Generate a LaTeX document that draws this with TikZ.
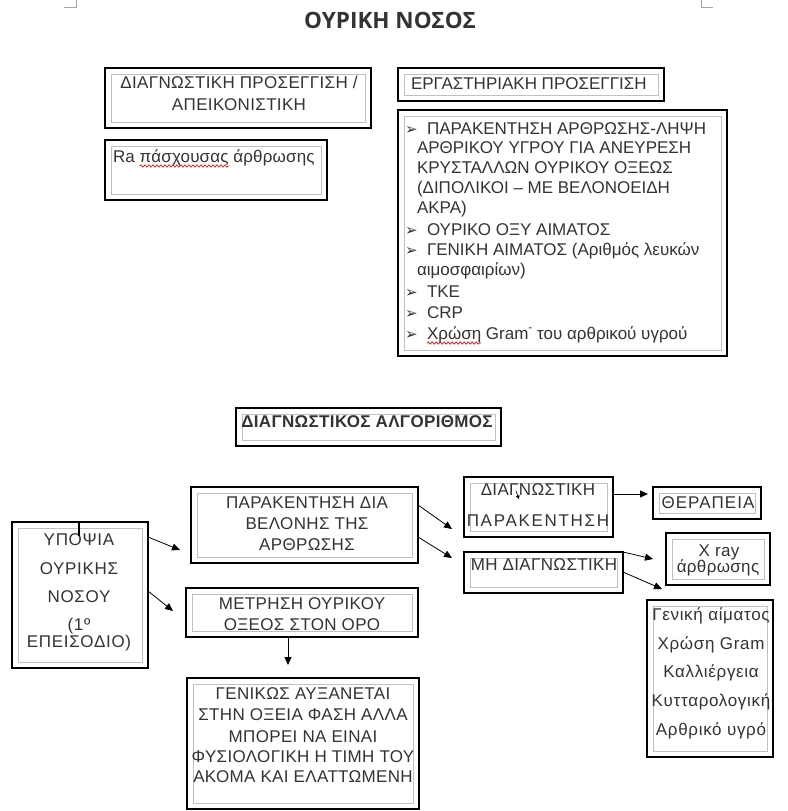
\documentclass[tikz,border=0pt]{standalone}
\usepackage{fontspec}
\setmainfont{Liberation Sans}
\newfontfamily\dvfont{DejaVu Sans}
\newfontfamily\ttlfont{Open Sans}
\usetikzlibrary{arrows.meta,decorations.pathmorphing,calc}
\definecolor{txtc}{HTML}{333333}
\definecolor{inn}{HTML}{C0C0C0}
\definecolor{cropc}{HTML}{A6A6A6}
\newcommand\ls[1]{\addfontfeature{LetterSpace=#1}}
\tikzset{
 obox/.style={draw=black,line width=1.2pt,inner sep=0pt,outer sep=0pt},
 ibox/.style={draw=inn,line width=0.9pt},
 txt/.style={inner sep=0pt,outer sep=0pt,text=txtc,font=\fontsize{17}{20}\selectfont\ls{2}},
 sp0/.style={font=\fontsize{17}{20}\selectfont},
 sp1/.style={font=\fontsize{17}{20}\selectfont\ls{1}},
 sp4/.style={font=\fontsize{17}{20}\selectfont\ls{4}},
 sp6/.style={font=\fontsize{17}{20}\selectfont\ls{6}},
 sp10/.style={font=\fontsize{17}{20}\selectfont\ls{10}},
 btxt/.style={txt,font=\fontsize{17}{20}\selectfont\bfseries\ls{2}},
 bul/.style={inner sep=0pt,outer sep=0pt,text=txtc,font=\dvfont\fontsize{15}{15}\selectfont},
 arr/.style={draw=black,line width=0.8pt,-{Triangle[length=8pt,width=7pt]}},
 tinyarr/.style={draw=black,line width=0.6pt,-{Triangle[length=3.5pt,width=3.5pt]}},
 spell/.style={draw=red,line width=0.7pt,decorate,decoration={snake,segment length=4pt,amplitude=1.1pt}},
 cropm/.style={draw=cropc,line width=0.8pt},
}
\newcommand\mkbox[5]{%
  \node[obox,minimum width={#4-#2},minimum height={#5-#3}] (#1) at ({(#2+#4)/2},{(#3+#5)/2}) {};
  \draw[ibox] ([shift={(6,6)}]#1.north west) rectangle ([shift={(-6,-6)}]#1.south east);
}
\newcommand\tc[5][]{\node[txt,#1,anchor=base] (#2) at (#3,#4) {#5};}
\newcommand\tw[5][]{\node[txt,#1,anchor=base west] (#2) at (#3,#4) {#5};}
\newcommand\bu[3]{\node[bul,anchor=base west] (#1) at (#2,#3) {➢};}
\begin{document}
\begin{tikzpicture}[x=1pt,y=-1pt]
\useasboundingbox[fill=white] (0,0) rectangle (787,811);
% crop marks
\coordinate (cl) at (76,7);
\coordinate (cr) at (701,7);
\draw[cropm] (cl |- 0,0) -- (cl) -- ++(-12,0);
\draw[cropm] (cr |- 0,0) -- (cr) -- ++(12,0);
% title
\node[inner sep=0pt,anchor=base,text=txtc,font=\ttlfont\bfseries\fontsize{22.5}{26}\selectfont] (title) at (390,28) {ΟΥΡΙΚΗ ΝΟΣΟΣ};
% boxes
\mkbox{A}{105}{68}{371}{128}
\mkbox{B}{105}{140}{327}{200}
\mkbox{C}{398}{68}{664}{101}
\mkbox{D}{398}{110}{727}{356}
\mkbox{E}{236}{408}{501}{446}
\mkbox{F}{12}{522}{148}{668}
\mkbox{G}{191}{487}{418}{563}
\mkbox{H}{186}{588}{418}{637}
\mkbox{I}{187}{678}{419}{809}
\mkbox{J}{464}{477}{613}{537}
\mkbox{K}{653}{487}{761}{519}
\mkbox{L}{464}{552}{623}{593}
\mkbox{M}{666}{533}{770}{585}
\mkbox{N}{647}{600}{773}{757}
% texts A
\tc{a1}{239}{88}{ΔΙΑΓΝΩΣΤΙΚΗ ΠΡΟΣΕΓΓΙΣΗ /}
\tc{a2}{239}{110}{ΑΠΕΙΚΟΝΙΣΤΙΚΗ}
% B
\tw[sp1]{b1}{113}{162}{Ra}
\node[txt,sp1,anchor=base west] (b2) at ([xshift=4.8pt]b1.base east) {πάσχουσας};
\node[txt,sp1,anchor=base west] (b3) at ([xshift=4.8pt]b2.base east) {άρθρωσης};
\draw[spell] ($(b2.base west)+(0,4)$) -- ($(b2.base east)+(0,4)$);
% C
\tw[sp0]{c1}{411}{89}{ΕΡΓΑΣΤΗΡΙΑΚΗ ΠΡΟΣΕΓΓΙΣΗ}
% D
\bu{db1}{405}{134}
\tw[sp0]{d1}{427}{134}{ΠΑΡΑΚΕΝΤΗΣΗ ΑΡΘΡΩΣΗΣ-ΛΗΨΗ}
\tw[sp0]{d2}{417}{153}{ΑΡΘΡΙΚΟΥ ΥΓΡΟΥ ΓΙΑ ΑΝΕΥΡΕΣΗ}
\tw[sp0]{d3}{417}{173}{ΚΡΥΣΤΑΛΛΩΝ ΟΥΡΙΚΟΥ ΟΞΕΩΣ}
\tw[sp0]{d4}{417}{193}{(ΔΙΠΟΛΙΚΟΙ – ΜΕ ΒΕΛΟΝΟΕΙΔΗ}
\tw[sp0]{d5}{417}{213}{ΑΚΡΑ)}
\bu{db6}{405}{235}
\tw[sp0]{d6}{427}{235}{ΟΥΡΙΚΟ ΟΞΥ ΑΙΜΑΤΟΣ}
\bu{db7}{405}{255}
\tw[sp0]{d7}{427}{255}{ΓΕΝΙΚΗ ΑΙΜΑΤΟΣ (Αριθμός λευκών}
\tw[sp0]{d8}{417}{275}{αιμοσφαιρίων)}
\bu{db9}{405}{297}
\tw[sp0]{d9}{427}{297}{ΤΚΕ}
\bu{db10}{405}{318}
\tw[sp0]{d10}{427}{318}{CRP}
\bu{db11}{405}{339}
\tw[sp0]{d11}{427}{339}{Χρώση}
\node[txt,sp0,anchor=base west] (d11b) at ([xshift=4.7pt]d11.base east) {Gram\raisebox{0.45em}{\scalebox{0.7}{-}} του αρθρικού υγρού};
\draw[spell] ($(d11.base west)+(0,4)$) -- ($(d11.base east)+(0,4)$);
% E
\node[btxt,anchor=base] (e1) at (367,427) {ΔΙΑΓΝΩΣΤΙΚΟΣ ΑΛΓΟΡΙΘΜΟΣ};
% F
\tc[sp4]{f1}{79}{545}{ΥΠΟΨΙΑ}
\tc[sp4]{f2}{79}{574}{ΟΥΡΙΚΗΣ}
\tc[sp4]{f3}{79}{602}{ΝΟΣΟΥ}
\tc[sp4]{f4}{79}{630}{(1º}
\tc[sp4]{f5}{79}{647}{ΕΠΕΙΣΟΔΙΟ)}
\draw[black,line width=1.4pt] ([shift={(67,1)}]F.north west) -- ([shift={(67,14)}]F.north west);
% G
\tc{g1}{307}{508}{ΠΑΡΑΚΕΝΤΗΣΗ ΔΙΑ}
\tc{g2}{307}{529}{ΒΕΛΟΝΗΣ ΤΗΣ}
\tc{g3}{307}{550}{ΑΡΘΡΩΣΗΣ}
% H
\tc{h1}{302}{609}{ΜΕΤΡΗΣΗ ΟΥΡΙΚΟΥ}
\tc{h2}{302}{630}{ΟΞΕΟΣ ΣΤΟΝ ΟΡΟ}
% I
\tc{i1}{303}{699}{ΓΕΝΙΚΩΣ ΑΥΞΑΝΕΤΑΙ}
\tc{i2}{303}{720}{ΣΤΗΝ ΟΞΕΙΑ ΦΑΣΗ ΑΛΛΑ}
\tc{i3}{303}{742}{ΜΠΟΡΕΙ ΝΑ ΕΙΝΑΙ}
\tc{i4}{303}{762}{ΦΥΣΙΟΛΟΓΙΚΗ Η ΤΙΜΗ ΤΟΥ}
\tc{i5}{303}{782}{ΑΚΟΜΑ ΚΑΙ ΕΛΑΤΤΩΜΕΝΗ}
% J
\tc{j1}{538}{495}{ΔΙΑΓΝΩΣΤΙΚΗ}
\tc[sp10]{j2}{538}{526}{ΠΑΡΑΚΕΝΤΗΣΗ}
\draw[tinyarr] ([shift={(52,14)}]J.north west) -- ([shift={(55,22)}]J.north west);
% K
\tc[sp6]{k1}{708}{508}{ΘΕΡΑΠΕΙΑ}
% L
\tc{l1}{544}{570}{ΜΗ ΔΙΑΓΝΩΣΤΙΚΗ}
% M
\tc{m1}{719}{556}{X ray}
\tc{m2}{718}{572}{άρθρωσης}
% N
\tc[sp4]{n1}{711}{620}{Γενική αίματος}
\tc[sp4]{n2}{711}{649}{Χρώση Gram}
\tc[sp4]{n3}{711}{677}{Καλλιέργεια}
\tc[sp4]{n4}{711}{706}{Κυτταρολογική}
\tc[sp4]{n5}{711}{735}{Αρθρικό υγρό}
% arrows
\draw[arr] ([shift={(0,15)}]F.north east) -- ([shift={(-11,63)}]G.north west);
\draw[arr] ([shift={(0,69)}]F.north east) -- ([shift={(-13,23)}]H.north west);
\draw[arr] ([shift={(0,18)}]G.north east) -- ([shift={(-12,52)}]J.north west);
\draw[arr] ([shift={(0,50)}]G.north east) -- ([shift={(-12,6)}]L.north west);
\draw[arr] ([shift={(0,17)}]J.north east) -- ([shift={(-5,7)}]K.north west);
\draw[arr] (L.north east) -- ([shift={(-13,26)}]M.north west);
\draw[arr] ([shift={(0,20)}]L.north east) -- ([shift={(15,-11)}]N.north west);
\draw[arr] ([shift={(102,0)}]H.south west) -- ([shift={(101,-13)}]I.north west);
\end{tikzpicture}
\end{document}
